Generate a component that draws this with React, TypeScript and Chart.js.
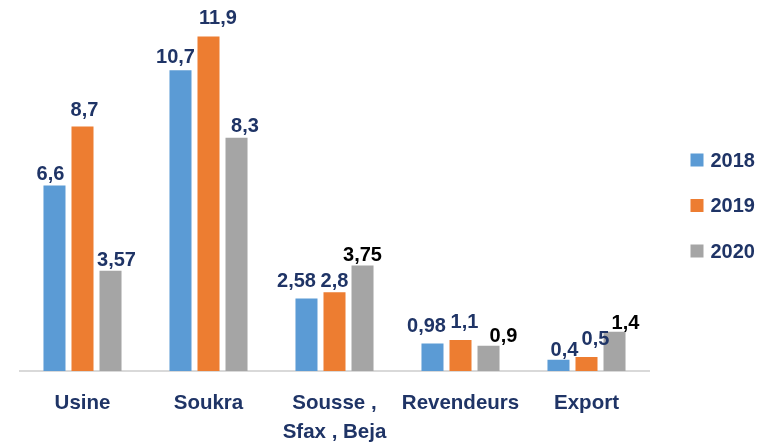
import React, { useEffect, useRef } from "react";
import { Chart, registerables } from "chart.js";

Chart.register(...registerables);

// ---- data ----
const categories: (string | string[])[] = ["Usine", "Soukra", ["Sousse ,", "Sfax , Beja"], "Revendeurs", "Export"];
const seriesNames = ["2018", "2019", "2020"];
const values2018 = [6.6, 10.7, 2.58, 0.98, 0.4];
const values2019 = [8.7, 11.9, 2.8, 1.1, 0.5];
const values2020 = [3.57, 8.3, 3.75, 0.9, 1.4];

// ---- styles ----
const COLORS = ["#5B9BD5", "#ED7D31", "#A5A5A5"];
const NAVY = "#1F3466";
const FONT = "'Liberation Sans', Arial, sans-serif";
const LABEL_COLORS = [
  [NAVY, NAVY, NAVY, NAVY, NAVY],
  [NAVY, NAVY, NAVY, NAVY, NAVY],
  [NAVY, NAVY, "#000000", "#000000", "#000000"],
];
// [dx, gap above bar] per label
const LABEL_OFFSETS = [
  [[-4, 6], [-5, 7], [-10, 11], [-6, 11], [6, 4]],
  [[2, 10], [9.5, 13], [0, 5], [4, 12], [9, 12]],
  [[6, 5], [8.5, 6], [0, 5], [15, 4], [11, 3]],
];

const fmt = (v: number) => String(v).replace(".", ",");

const labelPlugin = {
  id: "valueLabels",
  afterDatasetsDraw(chart: any) {
    const ctx = chart.ctx;
    ctx.save();
    ctx.font = `bold 20px ${FONT}`;
    ctx.textAlign = "center";
    ctx.textBaseline = "alphabetic";
    chart.data.datasets.forEach((ds: any, di: number) => {
      const meta = chart.getDatasetMeta(di);
      meta.data.forEach((el: any, i: number) => {
        const [dx, gap] = LABEL_OFFSETS[di][i];
        ctx.fillStyle = LABEL_COLORS[di][i];
        ctx.fillText(fmt(ds.data[i]), el.x + dx, el.y - gap);
      });
    });
    ctx.restore();
  },
  afterDraw(chart: any) {
    const ctx = chart.ctx;
    const area = chart.chartArea;
    ctx.save();
    ctx.font = `bold 20px ${FONT}`;
    ctx.textAlign = "left";
    ctx.textBaseline = "middle";
    chart.data.datasets.forEach((ds: any, di: number) => {
      const cy = 160 + di * 45.5;
      const x0 = area.right + 41;
      ctx.fillStyle = COLORS[di];
      ctx.fillRect(x0, cy - 6.5, 13, 13);
      ctx.fillStyle = NAVY;
      ctx.fillText(ds.label, x0 + 20, cy + 1);
    });
    ctx.restore();
  },
};

export default function App() {
  const ref = useRef<HTMLCanvasElement | null>(null);
  useEffect(() => {
    document.body.style.margin = "0";
    const values = [values2018, values2019, values2020];
    const chart = new Chart(ref.current as HTMLCanvasElement, {
      type: "bar",
      data: {
        labels: categories as any,
        datasets: seriesNames.map((name, i) => ({
          label: name,
          data: values[i],
          backgroundColor: COLORS[i],
          borderWidth: 0,
          barPercentage: 0.786,
          categoryPercentage: 0.667,
        })),
      },
      options: {
        animation: false,
        responsive: true,
        maintainAspectRatio: false,
        layout: { padding: { left: 19.5, right: 117.5, top: 0, bottom: 0 } },
        plugins: { legend: { display: false }, tooltip: { enabled: false } },
        scales: {
          x: {
            grid: { display: false, drawTicks: false },
            border: { display: true, color: "#D9D9D9", width: 2 },
            ticks: {
              color: NAVY,
              font: { family: FONT, size: 20.5, weight: "bold", lineHeight: 1.415 },
              padding: 18,
              maxRotation: 0,
              autoSkip: false,
            },
            afterFit: (scale: any) => {
              scale.height = 72;
            },
          },
          y: { display: false, min: 0, max: 13.2 },
        },
      },
      plugins: [labelPlugin],
    });
    return () => chart.destroy();
  }, []);
  return (
    <div style={{ width: 767, height: 443, position: "relative" }}>
      <canvas ref={ref} />
    </div>
  );
}
